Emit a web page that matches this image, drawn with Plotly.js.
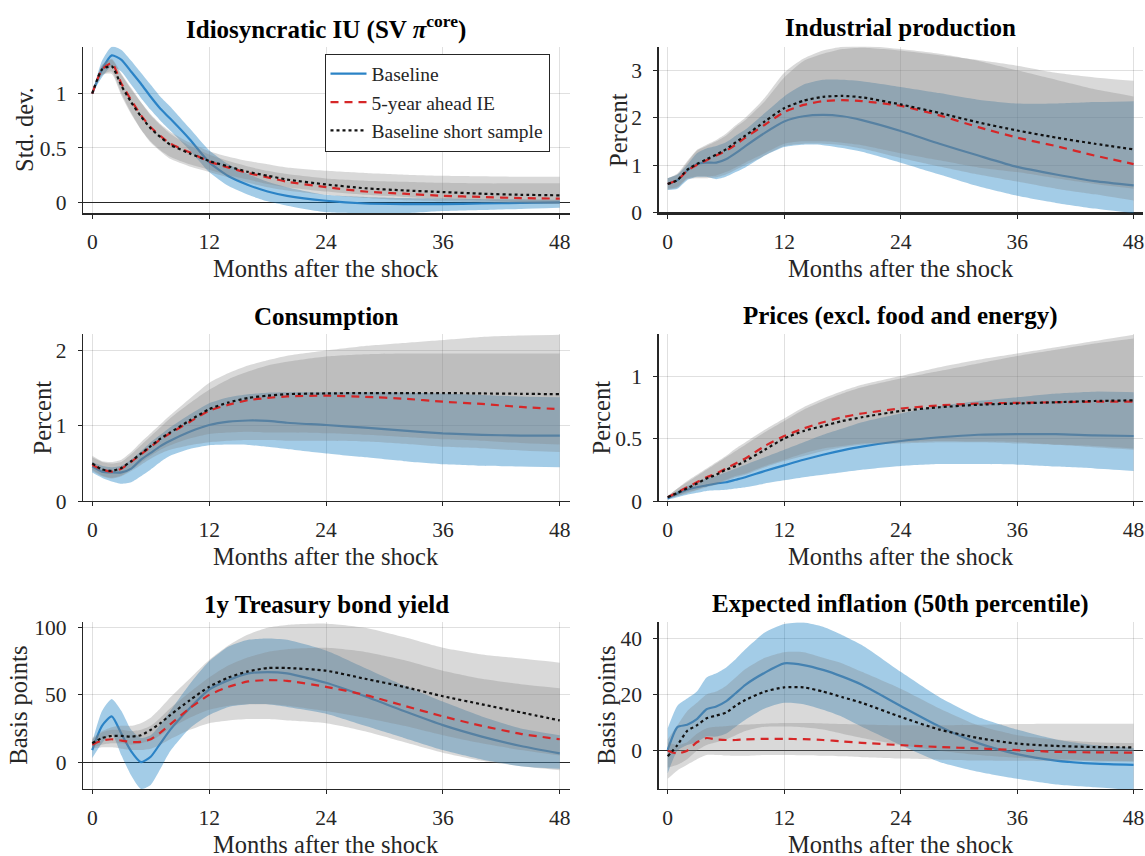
<!DOCTYPE html>
<html>
<head>
<meta charset="utf-8">
<script src="https://cdn.plot.ly/plotly-3.0.1.min.js"></script>
<style>
  html, body { margin: 0; padding: 0; background: #fff; }
  #chart { width: 1145px; height: 856px; }
</style>
</head>
<body>
<div id="chart"></div>
<script>
var months = [0, 1, 2, 3, 4, 5, 6, 7, 8, 10, 12, 14, 16, 18, 20, 24, 28, 32, 36, 40, 44, 48];

// Idiosyncratic IU
var iuBase    = [1.0, 1.22, 1.35, 1.31, 1.20, 1.09, 0.97, 0.86, 0.77, 0.58, 0.37, 0.24, 0.16, 0.10, 0.06, 0.015, -0.01, -0.015, -0.015, -0.01, -0.005, 0.0];
var iuBaseLo  = [1.0, 1.15, 1.25, 1.20, 1.08, 0.96, 0.85, 0.75, 0.66, 0.48, 0.28, 0.15, 0.07, 0.01, -0.03, -0.09, -0.10, -0.10, -0.08, -0.07, -0.06, -0.05];
var iuBaseHi  = [1.0, 1.30, 1.43, 1.40, 1.30, 1.19, 1.08, 0.97, 0.88, 0.68, 0.48, 0.35, 0.26, 0.19, 0.14, 0.07, 0.05, 0.04, 0.035, 0.03, 0.03, 0.025];
var iuIE      = [1.0, 1.22, 1.28, 1.09, 0.94, 0.80, 0.69, 0.61, 0.54, 0.46, 0.375, 0.32, 0.27, 0.23, 0.19, 0.14, 0.10, 0.08, 0.06, 0.05, 0.04, 0.035];
var iuIELo    = [1.0, 1.17, 1.20, 1.00, 0.82, 0.67, 0.55, 0.47, 0.40, 0.33, 0.28, 0.23, 0.18, 0.14, 0.11, 0.07, 0.04, 0.02, 0.01, 0.0, -0.01, -0.015];
var iuIEHi    = [1.0, 1.26, 1.32, 1.18, 1.05, 0.92, 0.80, 0.71, 0.63, 0.52, 0.44, 0.38, 0.33, 0.29, 0.26, 0.22, 0.20, 0.19, 0.18, 0.175, 0.175, 0.175];
var iuShort   = [1.0, 1.22, 1.25, 1.07, 0.92, 0.79, 0.68, 0.60, 0.53, 0.45, 0.38, 0.33, 0.28, 0.245, 0.21, 0.165, 0.13, 0.11, 0.095, 0.08, 0.07, 0.065];
var iuShortLo = [1.0, 1.17, 1.18, 0.98, 0.81, 0.67, 0.56, 0.48, 0.42, 0.35, 0.30, 0.25, 0.21, 0.17, 0.14, 0.10, 0.07, 0.05, 0.03, 0.02, 0.0, -0.01];
var iuShortHi = [1.0, 1.26, 1.31, 1.17, 1.04, 0.92, 0.81, 0.72, 0.65, 0.55, 0.47, 0.42, 0.38, 0.35, 0.32, 0.29, 0.27, 0.255, 0.245, 0.24, 0.235, 0.235];

// Industrial production
var ipBase    = [0.60, 0.68, 0.88, 1.02, 1.05, 1.05, 1.12, 1.25, 1.40, 1.68, 1.92, 2.03, 2.06, 2.03, 1.95, 1.72, 1.45, 1.20, 0.96, 0.80, 0.66, 0.57];
var ipBaseLo  = [0.47, 0.50, 0.68, 0.75, 0.75, 0.70, 0.75, 0.85, 0.95, 1.20, 1.38, 1.43, 1.42, 1.36, 1.28, 1.05, 0.80, 0.55, 0.35, 0.20, 0.08, -0.02];
var ipBaseHi  = [0.72, 0.80, 1.00, 1.25, 1.35, 1.40, 1.48, 1.62, 1.75, 2.10, 2.45, 2.70, 2.80, 2.80, 2.77, 2.65, 2.52, 2.38, 2.30, 2.30, 2.33, 2.35];
var ipIE      = [0.60, 0.68, 0.88, 1.00, 1.10, 1.20, 1.30, 1.43, 1.58, 1.85, 2.12, 2.27, 2.35, 2.37, 2.35, 2.25, 2.05, 1.80, 1.58, 1.40, 1.20, 1.02];
var ipIELo    = [0.48, 0.52, 0.70, 0.72, 0.72, 0.74, 0.80, 0.90, 1.00, 1.20, 1.40, 1.45, 1.45, 1.42, 1.35, 1.15, 0.97, 0.80, 0.65, 0.50, 0.38, 0.25];
var ipIEHi    = [0.72, 0.80, 1.05, 1.30, 1.40, 1.50, 1.62, 1.80, 1.95, 2.35, 2.85, 3.20, 3.35, 3.45, 3.48, 3.42, 3.32, 3.22, 3.10, 2.95, 2.85, 2.78];
var ipShort   = [0.60, 0.68, 0.90, 1.02, 1.12, 1.22, 1.33, 1.48, 1.62, 1.92, 2.20, 2.36, 2.44, 2.46, 2.43, 2.28, 2.10, 1.90, 1.73, 1.58, 1.45, 1.33];
var ipShortLo = [0.50, 0.54, 0.72, 0.76, 0.76, 0.78, 0.85, 0.95, 1.05, 1.25, 1.45, 1.50, 1.50, 1.47, 1.42, 1.25, 1.10, 0.95, 0.85, 0.72, 0.60, 0.50];
var ipShortHi = [0.72, 0.82, 1.08, 1.32, 1.43, 1.53, 1.66, 1.84, 2.00, 2.42, 2.95, 3.25, 3.42, 3.50, 3.52, 3.45, 3.35, 3.20, 3.00, 2.80, 2.60, 2.45];

// Consumption
var coBase    = [0.46, 0.39, 0.38, 0.38, 0.43, 0.55, 0.64, 0.73, 0.80, 0.92, 1.01, 1.055, 1.07, 1.065, 1.04, 1.01, 0.975, 0.935, 0.90, 0.88, 0.87, 0.87];
var coBaseLo  = [0.38, 0.31, 0.26, 0.23, 0.25, 0.33, 0.42, 0.52, 0.60, 0.69, 0.74, 0.75, 0.745, 0.72, 0.69, 0.63, 0.58, 0.53, 0.49, 0.47, 0.46, 0.45];
var coBaseHi  = [0.52, 0.47, 0.45, 0.47, 0.55, 0.66, 0.78, 0.88, 0.98, 1.15, 1.30, 1.38, 1.42, 1.44, 1.445, 1.445, 1.445, 1.44, 1.43, 1.41, 1.39, 1.38];
var coIE      = [0.48, 0.42, 0.39, 0.43, 0.52, 0.62, 0.72, 0.82, 0.90, 1.05, 1.20, 1.28, 1.34, 1.37, 1.39, 1.40, 1.385, 1.36, 1.32, 1.29, 1.25, 1.22];
var coIELo    = [0.40, 0.33, 0.30, 0.33, 0.40, 0.48, 0.56, 0.63, 0.68, 0.74, 0.78, 0.80, 0.81, 0.81, 0.80, 0.80, 0.79, 0.76, 0.72, 0.70, 0.67, 0.65];
var coIEHi    = [0.58, 0.52, 0.50, 0.52, 0.62, 0.74, 0.86, 0.98, 1.10, 1.30, 1.48, 1.62, 1.72, 1.80, 1.85, 1.92, 1.95, 1.96, 1.96, 1.96, 1.96, 1.96];
var coShort   = [0.50, 0.42, 0.40, 0.44, 0.53, 0.63, 0.73, 0.83, 0.91, 1.07, 1.22, 1.31, 1.37, 1.40, 1.42, 1.43, 1.435, 1.435, 1.435, 1.43, 1.425, 1.42];
var coShortLo = [0.42, 0.34, 0.31, 0.34, 0.42, 0.51, 0.60, 0.68, 0.74, 0.83, 0.89, 0.91, 0.92, 0.91, 0.91, 0.90, 0.88, 0.85, 0.82, 0.80, 0.77, 0.75];
var coShortHi = [0.60, 0.53, 0.52, 0.55, 0.65, 0.78, 0.90, 1.02, 1.14, 1.36, 1.57, 1.70, 1.80, 1.87, 1.93, 2.00, 2.06, 2.10, 2.14, 2.18, 2.20, 2.21];

// Prices (excl. food and energy)
var prBase    = [0.02, 0.06, 0.09, 0.11, 0.125, 0.14, 0.15, 0.17, 0.19, 0.24, 0.285, 0.33, 0.37, 0.405, 0.435, 0.48, 0.51, 0.53, 0.535, 0.535, 0.525, 0.52];
var prBaseLo  = [0.01, 0.03, 0.05, 0.065, 0.08, 0.085, 0.09, 0.10, 0.11, 0.14, 0.165, 0.19, 0.21, 0.23, 0.25, 0.28, 0.295, 0.295, 0.29, 0.275, 0.26, 0.24];
var prBaseHi  = [0.03, 0.08, 0.12, 0.15, 0.18, 0.20, 0.23, 0.26, 0.29, 0.35, 0.41, 0.47, 0.53, 0.58, 0.63, 0.70, 0.76, 0.80, 0.83, 0.86, 0.875, 0.87];
var prIE      = [0.03, 0.07, 0.11, 0.15, 0.19, 0.22, 0.26, 0.30, 0.34, 0.44, 0.52, 0.58, 0.63, 0.67, 0.70, 0.74, 0.765, 0.78, 0.785, 0.79, 0.795, 0.795];
var prIELo    = [0.02, 0.04, 0.07, 0.09, 0.12, 0.14, 0.17, 0.20, 0.22, 0.28, 0.33, 0.38, 0.42, 0.44, 0.46, 0.47, 0.48, 0.475, 0.47, 0.45, 0.43, 0.41];
var prIEHi    = [0.04, 0.10, 0.15, 0.20, 0.25, 0.30, 0.35, 0.40, 0.45, 0.55, 0.64, 0.73, 0.80, 0.86, 0.91, 0.98, 1.04, 1.10, 1.16, 1.21, 1.26, 1.30];
var prShort   = [0.03, 0.065, 0.10, 0.14, 0.18, 0.21, 0.25, 0.28, 0.32, 0.41, 0.50, 0.56, 0.60, 0.64, 0.67, 0.72, 0.75, 0.77, 0.78, 0.79, 0.80, 0.805];
var prShortLo = [0.02, 0.04, 0.06, 0.085, 0.11, 0.13, 0.16, 0.19, 0.21, 0.27, 0.32, 0.36, 0.40, 0.43, 0.45, 0.46, 0.47, 0.47, 0.46, 0.45, 0.44, 0.42];
var prShortHi = [0.04, 0.10, 0.16, 0.21, 0.26, 0.31, 0.36, 0.42, 0.47, 0.57, 0.66, 0.75, 0.82, 0.88, 0.93, 1.00, 1.07, 1.13, 1.18, 1.23, 1.28, 1.33];

// 1y Treasury bond yield
var tyBase    = [9, 27, 34, 21, 8, 0, 4, 14, 24, 40, 54, 61, 66, 67, 66, 59, 49, 38, 27.5, 19, 12, 6.5];
var tyBaseLo  = [3, 14, 21, 5, -10, -20, -17, -5, 8, 25, 35, 41, 43, 43, 41, 36, 27, 18, 9, 2, -3, -5];
var tyBaseHi  = [15, 38, 47, 38, 24, 18, 20, 28, 38, 58, 75, 86, 91, 92, 91, 83, 70, 57, 45, 34, 25, 20];
var tyIE      = [13, 16, 17, 16, 15, 15, 17, 22, 28, 40, 50, 56, 60, 61, 60.5, 56, 50, 42, 34, 27, 21, 17];
var tyIELo    = [10, 11, 11, 10, 9, 9, 10, 13, 17, 24, 29, 31, 32, 32, 31, 29, 23, 15, 7, 1, -3, -6];
var tyIEHi    = [17, 22, 24, 24, 23, 24, 27, 33, 40, 52, 63, 72, 78, 82, 84, 85, 82, 76, 68, 62, 58, 55];
var tyShort   = [14, 18, 19.5, 19.5, 19, 20, 24, 29, 35, 46, 56, 63, 67.5, 70, 70, 68, 62, 56, 49, 43, 37, 31];
var tyShortLo = [11, 13, 14, 14, 13, 14, 16, 20, 25, 33, 39, 42, 43, 43, 42, 38, 33, 27, 20, 14, 9, 5];
var tyShortHi = [18, 23, 26, 27, 27, 29, 33, 40, 48, 62, 76, 87, 95, 100, 102, 103, 100, 93, 85, 80, 77, 74];

// Expected inflation (50th percentile)
var eiBase    = [0.3, 8.4, 9.2, 11.2, 14.7, 15.7, 17.5, 20.4, 23.4, 27.7, 31, 30.4, 28.7, 26.3, 23.4, 15.9, 8.6, 2.7, -1.2, -3.5, -4.6, -5];
var eiBaseLo  = [-8, 0, 2, 3, 5, 5, 6, 8.5, 11, 15, 17, 16.5, 14.5, 12, 8.5, 2, -4, -7.5, -10, -12, -13, -14];
var eiBaseHi  = [8, 16, 18.5, 21, 26, 27.5, 29.5, 32.5, 36, 42, 45, 45.5, 44, 41, 37.5, 28, 19, 12, 7.5, 4, 2, 1];
var eiIE      = [0, -1, 0, 3, 4.5, 4, 3.8, 3.8, 4, 4.2, 4.2, 4.1, 3.8, 3.3, 2.8, 2, 1.3, 0.8, 0.2, -0.4, -0.6, -0.7];
var eiIELo    = [-10, -7, -5, -3, -1.5, -1.5, -1.7, -1.8, -1.8, -1.5, -1.5, -1.6, -1.8, -2, -2.3, -2.8, -3.2, -3.5, -3.6, -3.7, -3.8, -3.8];
var eiIEHi    = [3, 2, 3, 6, 8, 8.5, 8.7, 9, 9.3, 9.6, 9.8, 9.8, 9.7, 9.5, 9.3, 9, 9, 9.2, 9.5, 9.6, 9.6, 9.6];
var eiShort   = [-2, 2, 7, 9, 11.5, 12.5, 13.5, 16, 18, 21, 22.5, 22.5, 21, 19, 17, 12, 7.5, 4.5, 2.5, 1.7, 1.3, 1.2];
var eiShortLo = [-6, -5, -3, 0, 2, 3, 4, 5.5, 7, 8.5, 8.6, 8.3, 7.5, 6, 4.5, 2, 0, -1.5, -2.5, -3, -3.5, -3.8];
var eiShortHi = [4, 9, 14, 17, 20, 21, 23, 26, 29, 33, 35, 35, 33, 31, 28, 22, 15, 9, 5.5, 4, 3, 2.7];

var panelTitles = ['Idiosyncratic IU (SV <i>π</i><sup>core</sup>)', 'Industrial production',
                   'Consumption', 'Prices (excl. food and energy)',
                   '1y Treasury bond yield', 'Expected inflation (50th percentile)'];
var yTitles = ['Std. dev.', 'Percent', 'Percent', 'Percent', 'Basis points', 'Basis points'];
var yRanges = [[-0.1, 1.43], [-0.02, 3.5], [0, 2.22], [0, 1.336], [-20, 104], [-13.6, 45.6]];
var yTicks = [[0, 0.5, 1], [0, 1, 2, 3], [0, 1, 2], [0, 0.5, 1], [0, 50, 100], [0, 20, 40]];
var xTicks = [0, 12, 24, 36, 48];
var seriesNames = ['Baseline', '5-year ahead IE', 'Baseline short sample'];

var panels = [
  [iuBase, iuBaseLo, iuBaseHi, iuIE, iuIELo, iuIEHi, iuShort, iuShortLo, iuShortHi],
  [ipBase, ipBaseLo, ipBaseHi, ipIE, ipIELo, ipIEHi, ipShort, ipShortLo, ipShortHi],
  [coBase, coBaseLo, coBaseHi, coIE, coIELo, coIEHi, coShort, coShortLo, coShortHi],
  [prBase, prBaseLo, prBaseHi, prIE, prIELo, prIEHi, prShort, prShortLo, prShortHi],
  [tyBase, tyBaseLo, tyBaseHi, tyIE, tyIELo, tyIEHi, tyShort, tyShortLo, tyShortHi],
  [eiBase, eiBaseLo, eiBaseHi, eiIE, eiIELo, eiIEHi, eiShort, eiShortLo, eiShortHi]
];

var W = 1145, H = 856;
var colDom = [[83 / W, 569.5 / W], [658.5 / W, 1143.3 / W]];
var rowDom = [[1 - 213.3 / H, 1 - 46.7 / H], [1 - 501 / H, 1 - 334 / H], [1 - 789 / H, 1 - 622.3 / H]];
var titleY = [28, 316, 604];
var xTitleY = [268, 556.7, 844];
var yTitleX = [24, 618, 42, 601, 19, 607];

var SERIF = 'Liberation Serif';
var INK = '#262626';
var BLUE = '#2b83c6';
var BLUEBAND = 'rgba(0,114,189,0.36)';
var GRAYBAND = 'rgba(128,128,128,0.30)';

var data = [];
var layout = {
  width: W, height: H,
  margin: {l: 0, r: 0, t: 0, b: 0},
  paper_bgcolor: '#fff', plot_bgcolor: 'rgba(0,0,0,0)',
  font: {family: SERIF, color: INK, size: 20},
  showlegend: true,
  legend: {
    x: 324.5 / W, y: 1 - 53.5 / H, xanchor: 'left', yanchor: 'top',
    traceorder: 'normal',
    bgcolor: '#fff', bordercolor: INK, borderwidth: 1,
    font: {family: SERIF, size: 19.5, color: INK},
    itemwidth: 36, tracegroupgap: 0
  },
  annotations: []
};

function band(lo, hi, ax, ay, color) {
  data.push({x: months, y: lo, xaxis: ax, yaxis: ay, mode: 'lines', line: {width: 0, shape: 'spline', smoothing: 0.6},
             showlegend: false, hoverinfo: 'skip'});
  data.push({x: months, y: hi, xaxis: ax, yaxis: ay, mode: 'lines', line: {width: 0, shape: 'spline', smoothing: 0.6},
             fill: 'tonexty', fillcolor: color, showlegend: false, hoverinfo: 'skip'});
}

function line(y, ax, ay, style, name, legend) {
  data.push({x: months, y: y, xaxis: ax, yaxis: ay, mode: 'lines', name: name,
             line: Object.assign({shape: 'spline', smoothing: 0.6}, style), showlegend: legend});
}

panels.forEach(function (p, i) {
  var n = i + 1;
  var ax = 'x' + (n === 1 ? '' : n), ay = 'y' + (n === 1 ? '' : n);
  var col = i % 2, row = Math.floor(i / 2);
  var first = (i === 0);

  band(p[1], p[2], ax, ay, BLUEBAND);
  line(p[0], ax, ay, {color: BLUE, width: 2.2}, seriesNames[0], first);
  band(p[4], p[5], ax, ay, GRAYBAND);
  band(p[7], p[8], ax, ay, GRAYBAND);
  line(p[3], ax, ay, {color: '#d62728', width: 2.2, dash: '8px,6px'}, seriesNames[1], first);
  line(p[6], ax, ay, {color: '#111', width: 2.2, dash: 'dot'}, seriesNames[2], first);

  var xa = 'xaxis' + (n === 1 ? '' : n), ya = 'yaxis' + (n === 1 ? '' : n);
  layout[xa] = {
    domain: colDom[col], anchor: ay, range: [-0.95, 49],
    tickvals: xTicks, ticks: 'outside', ticklen: 4, tickwidth: 1, tickcolor: INK, ticklabelstandoff: 5,
    showgrid: true, gridcolor: 'rgba(0,0,0,0.12)', gridwidth: 1,
    zeroline: false, showline: true, linecolor: INK, linewidth: 1.2,
    tickfont: {family: SERIF, size: 21.5, color: INK}, fixedrange: true
  };
  layout[ya] = {
    domain: rowDom[row], anchor: ax, range: yRanges[i],
    tickvals: yTicks[i], ticks: 'outside', ticklen: 4, tickwidth: 1, tickcolor: INK, ticklabelstandoff: 7,
    showgrid: true, gridcolor: 'rgba(0,0,0,0.12)', gridwidth: 1,
    zeroline: true, zerolinecolor: INK, zerolinewidth: 1,
    showline: true, linecolor: INK, linewidth: 1.2,
    tickfont: {family: SERIF, size: 21.5, color: INK}, fixedrange: true
  };

  var cx = (colDom[col][0] + colDom[col][1]) / 2;
  layout.annotations.push({
    xref: 'paper', yref: 'paper', x: cx, y: 1 - titleY[row] / H, xanchor: 'center', yanchor: 'middle',
    text: '<b>' + panelTitles[i] + '</b>', showarrow: false, font: {family: SERIF, size: 25, color: '#000'}
  });
  layout.annotations.push({
    xref: 'paper', yref: 'paper', x: cx, y: 1 - xTitleY[row] / H, xanchor: 'center', yanchor: 'middle',
    text: 'Months after the shock', showarrow: false, font: {family: SERIF, size: 24.5, color: INK}
  });
  layout.annotations.push({
    xref: 'paper', yref: 'paper', x: yTitleX[i] / W, y: (rowDom[row][0] + rowDom[row][1]) / 2,
    xanchor: 'center', yanchor: 'middle', textangle: -90,
    text: yTitles[i], showarrow: false, font: {family: SERIF, size: 24.5, color: INK}
  });
});

Plotly.newPlot('chart', data, layout, {displayModeBar: false, staticPlot: true});
</script>
</body>
</html>
